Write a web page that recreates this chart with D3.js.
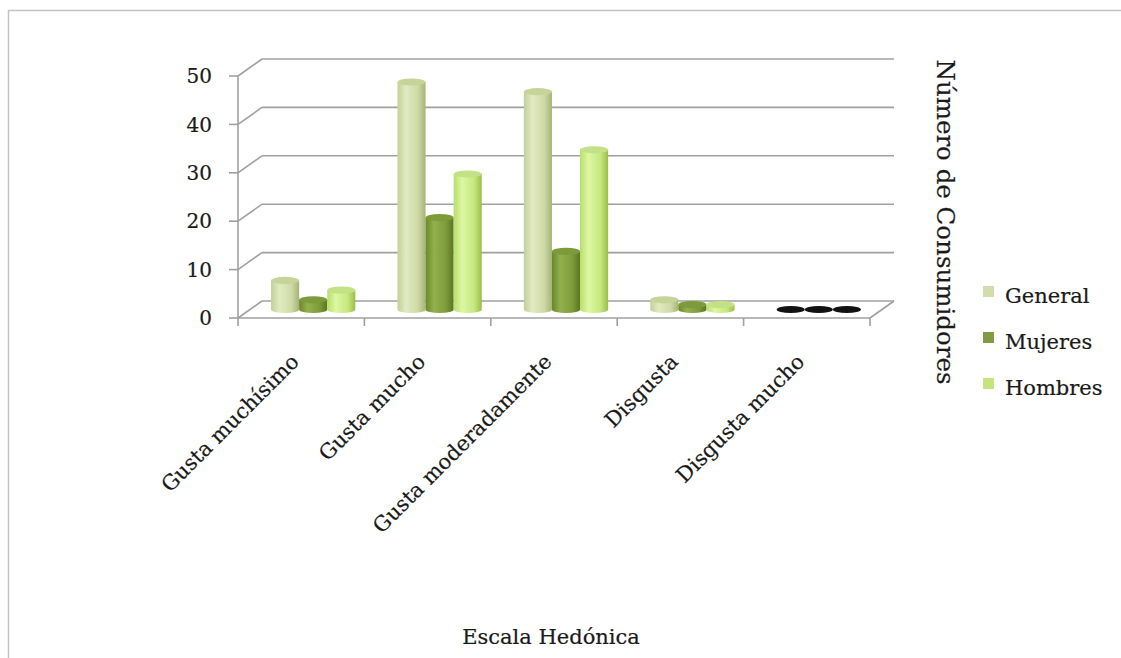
<!DOCTYPE html>
<html>
<head>
<meta charset="utf-8">
<script src="https://cdn.jsdelivr.net/npm/d3@7"></script>
<style>
  html, body { margin: 0; padding: 0; background: #fff; }
  svg { display: block; font-family: "DejaVu Serif", "Liberation Serif", serif; }
  svg text { fill: #1a1a1a; stroke: #1a1a1a; stroke-width: 0.2px; }
</style>
</head>
<body>
<svg id="chart" width="1121" height="658"></svg>
<script>
// Hedonic scale responses by group
const categories = ["Gusta muchísimo", "Gusta mucho", "Gusta moderadamente", "Disgusta", "Disgusta mucho"];
const series = ["General", "Mujeres", "Hombres"];
const general = [6, 47, 45, 2, 0];
const mujeres = [2, 19, 12, 1, 0];
const hombres = [4, 28, 33, 1, 0];
const yTicks = [0, 10, 20, 30, 40, 50];

const values = { General: general, Mujeres: mujeres, Hombres: hombres };

const svg = d3.select("#chart");
const W = 1121, H = 658;

// 3D box geometry: front plane plus a depth offset toward the back wall
const depthX = 24, depthY = -17;
const barDepth = 0.5;   // bars sit halfway into the floor

const x = d3.scaleBand().domain(categories).range([238, 870]);
const xs = d3.scaleBand().domain(series)
  .range([x.bandwidth() / 6, x.bandwidth() * 5 / 6]);
const y = d3.scaleLinear().domain([0, 50]).range([318, 76]);

const palette = {
  General: { stops: ["#c3d096", "#e1eac3", "#cfdaa6", "#a5b376"], top: "#c6d399", legend: "#d3dcad" },
  Mujeres: { stops: ["#6a872b", "#92b04c", "#7e9c3b", "#5a7622"], top: "#7d9b3b", legend: "#7f9b44" },
  Hombres: { stops: ["#b9de6c", "#ddf7a3", "#c7e87f", "#9abe48"], top: "#c3e285", legend: "#c3e57e" }
};

// Outer frame
svg.append("line").attr("x1", 8).attr("x2", W).attr("y1", 10.5).attr("y2", 10.5)
  .attr("stroke", "#c2c2c2").attr("stroke-width", 1.5);
svg.append("line").attr("x1", 8.5).attr("x2", 8.5).attr("y1", 10).attr("y2", H)
  .attr("stroke", "#c2c2c2").attr("stroke-width", 1.5);

const defs = svg.append("defs");
series.forEach(s => {
  const g = defs.append("linearGradient").attr("id", "grad-" + s)
    .attr("x1", "0%").attr("x2", "100%").attr("y1", "0%").attr("y2", "0%");
  [0, 30, 72, 100].forEach((o, i) => g.append("stop")
    .attr("offset", o + "%").attr("stop-color", palette[s].stops[i]));
});

const grid = svg.append("g").attr("stroke", "#a0a0a0").attr("stroke-width", 1.6).attr("fill", "none");
const x0 = x.range()[0], x1 = x.range()[1];

// Back wall gridlines and side wall diagonals
yTicks.forEach(t => {
  grid.append("line")
    .attr("x1", x0 + depthX).attr("x2", x1 + depthX)
    .attr("y1", y(t) + depthY).attr("y2", y(t) + depthY);
  grid.append("line")
    .attr("x1", x0).attr("x2", x0 + depthX)
    .attr("y1", y(t)).attr("y2", y(t) + depthY);
  grid.append("line")
    .attr("x1", x0 - 9).attr("x2", x0)
    .attr("y1", y(t)).attr("y2", y(t));
});

// Front value axis line
grid.append("line").attr("x1", x0).attr("x2", x0).attr("y1", y(50)).attr("y2", y(0));

// Floor front and right edges
grid.append("line").attr("x1", x0).attr("x2", x1).attr("y1", y(0)).attr("y2", y(0));
grid.append("line").attr("x1", x1).attr("x2", x1 + depthX).attr("y1", y(0)).attr("y2", y(0) + depthY);

// Category tick marks
const bounds = categories.map(c => x(c)).concat([x1]);
bounds.forEach(b => {
  grid.append("line").attr("x1", b).attr("x2", b).attr("y1", y(0)).attr("y2", y(0) + 8);
});

// Value axis labels
svg.append("g").selectAll("text").data(yTicks).join("text")
  .attr("x", 212).attr("y", d => y(d)).attr("dy", "0.36em")
  .attr("text-anchor", "end").attr("font-size", 20)
  .text(d => d);

// Cylinders
const ry = 3.6;
const bars = svg.append("g");
categories.forEach((c, ci) => {
  series.forEach(s => {
    const v = values[s][ci];
    const cx = x(c) + xs(s) + xs.bandwidth() / 2 + depthX * barDepth;
    const rx = xs.bandwidth() / 2;
    const yb = y(0) + depthY * barDepth;
    const yt = y(v) + depthY * barDepth;
    const g = bars.append("g");
    if (v === 0) {
      g.append("ellipse").attr("cx", cx).attr("cy", yb).attr("rx", rx).attr("ry", ry)
        .attr("fill", "#111");
      return;
    }
    g.append("path")
      .attr("d", `M${cx - rx},${yt} L${cx - rx},${yb} A${rx},${ry} 0 0 0 ${cx + rx},${yb} L${cx + rx},${yt} Z`)
      .attr("fill", `url(#grad-${s})`);
    g.append("ellipse").attr("cx", cx).attr("cy", yt).attr("rx", rx).attr("ry", ry)
      .attr("fill", palette[s].top);
  });
});

// Category labels, rotated
svg.append("g").selectAll("text").data(categories).join("text")
  .attr("transform", d => `translate(${x(d) + x.bandwidth() / 2 - 1},363) rotate(-45)`)
  .attr("text-anchor", "end").attr("font-size", 21)
  .text(d => d);

// Axis titles
svg.append("text")
  .attr("transform", "translate(937,222) rotate(90)")
  .attr("text-anchor", "middle").attr("font-size", 24.5)
  .text("Número de Consumidores");

svg.append("text")
  .attr("x", 551).attr("y", 644).attr("text-anchor", "middle")
  .attr("font-size", 21)
  .text("Escala Hedónica");

// Legend
const legend = svg.append("g");
series.forEach((s, i) => {
  const ly = 292 + i * 46;
  legend.append("rect").attr("x", 983).attr("y", ly - 6).attr("width", 11).attr("height", 11)
    .attr("fill", palette[s].legend);
  legend.append("text").attr("x", 1005).attr("y", ly + 11)
    .attr("font-size", 21).text(s);
});
</script>
</body>
</html>
